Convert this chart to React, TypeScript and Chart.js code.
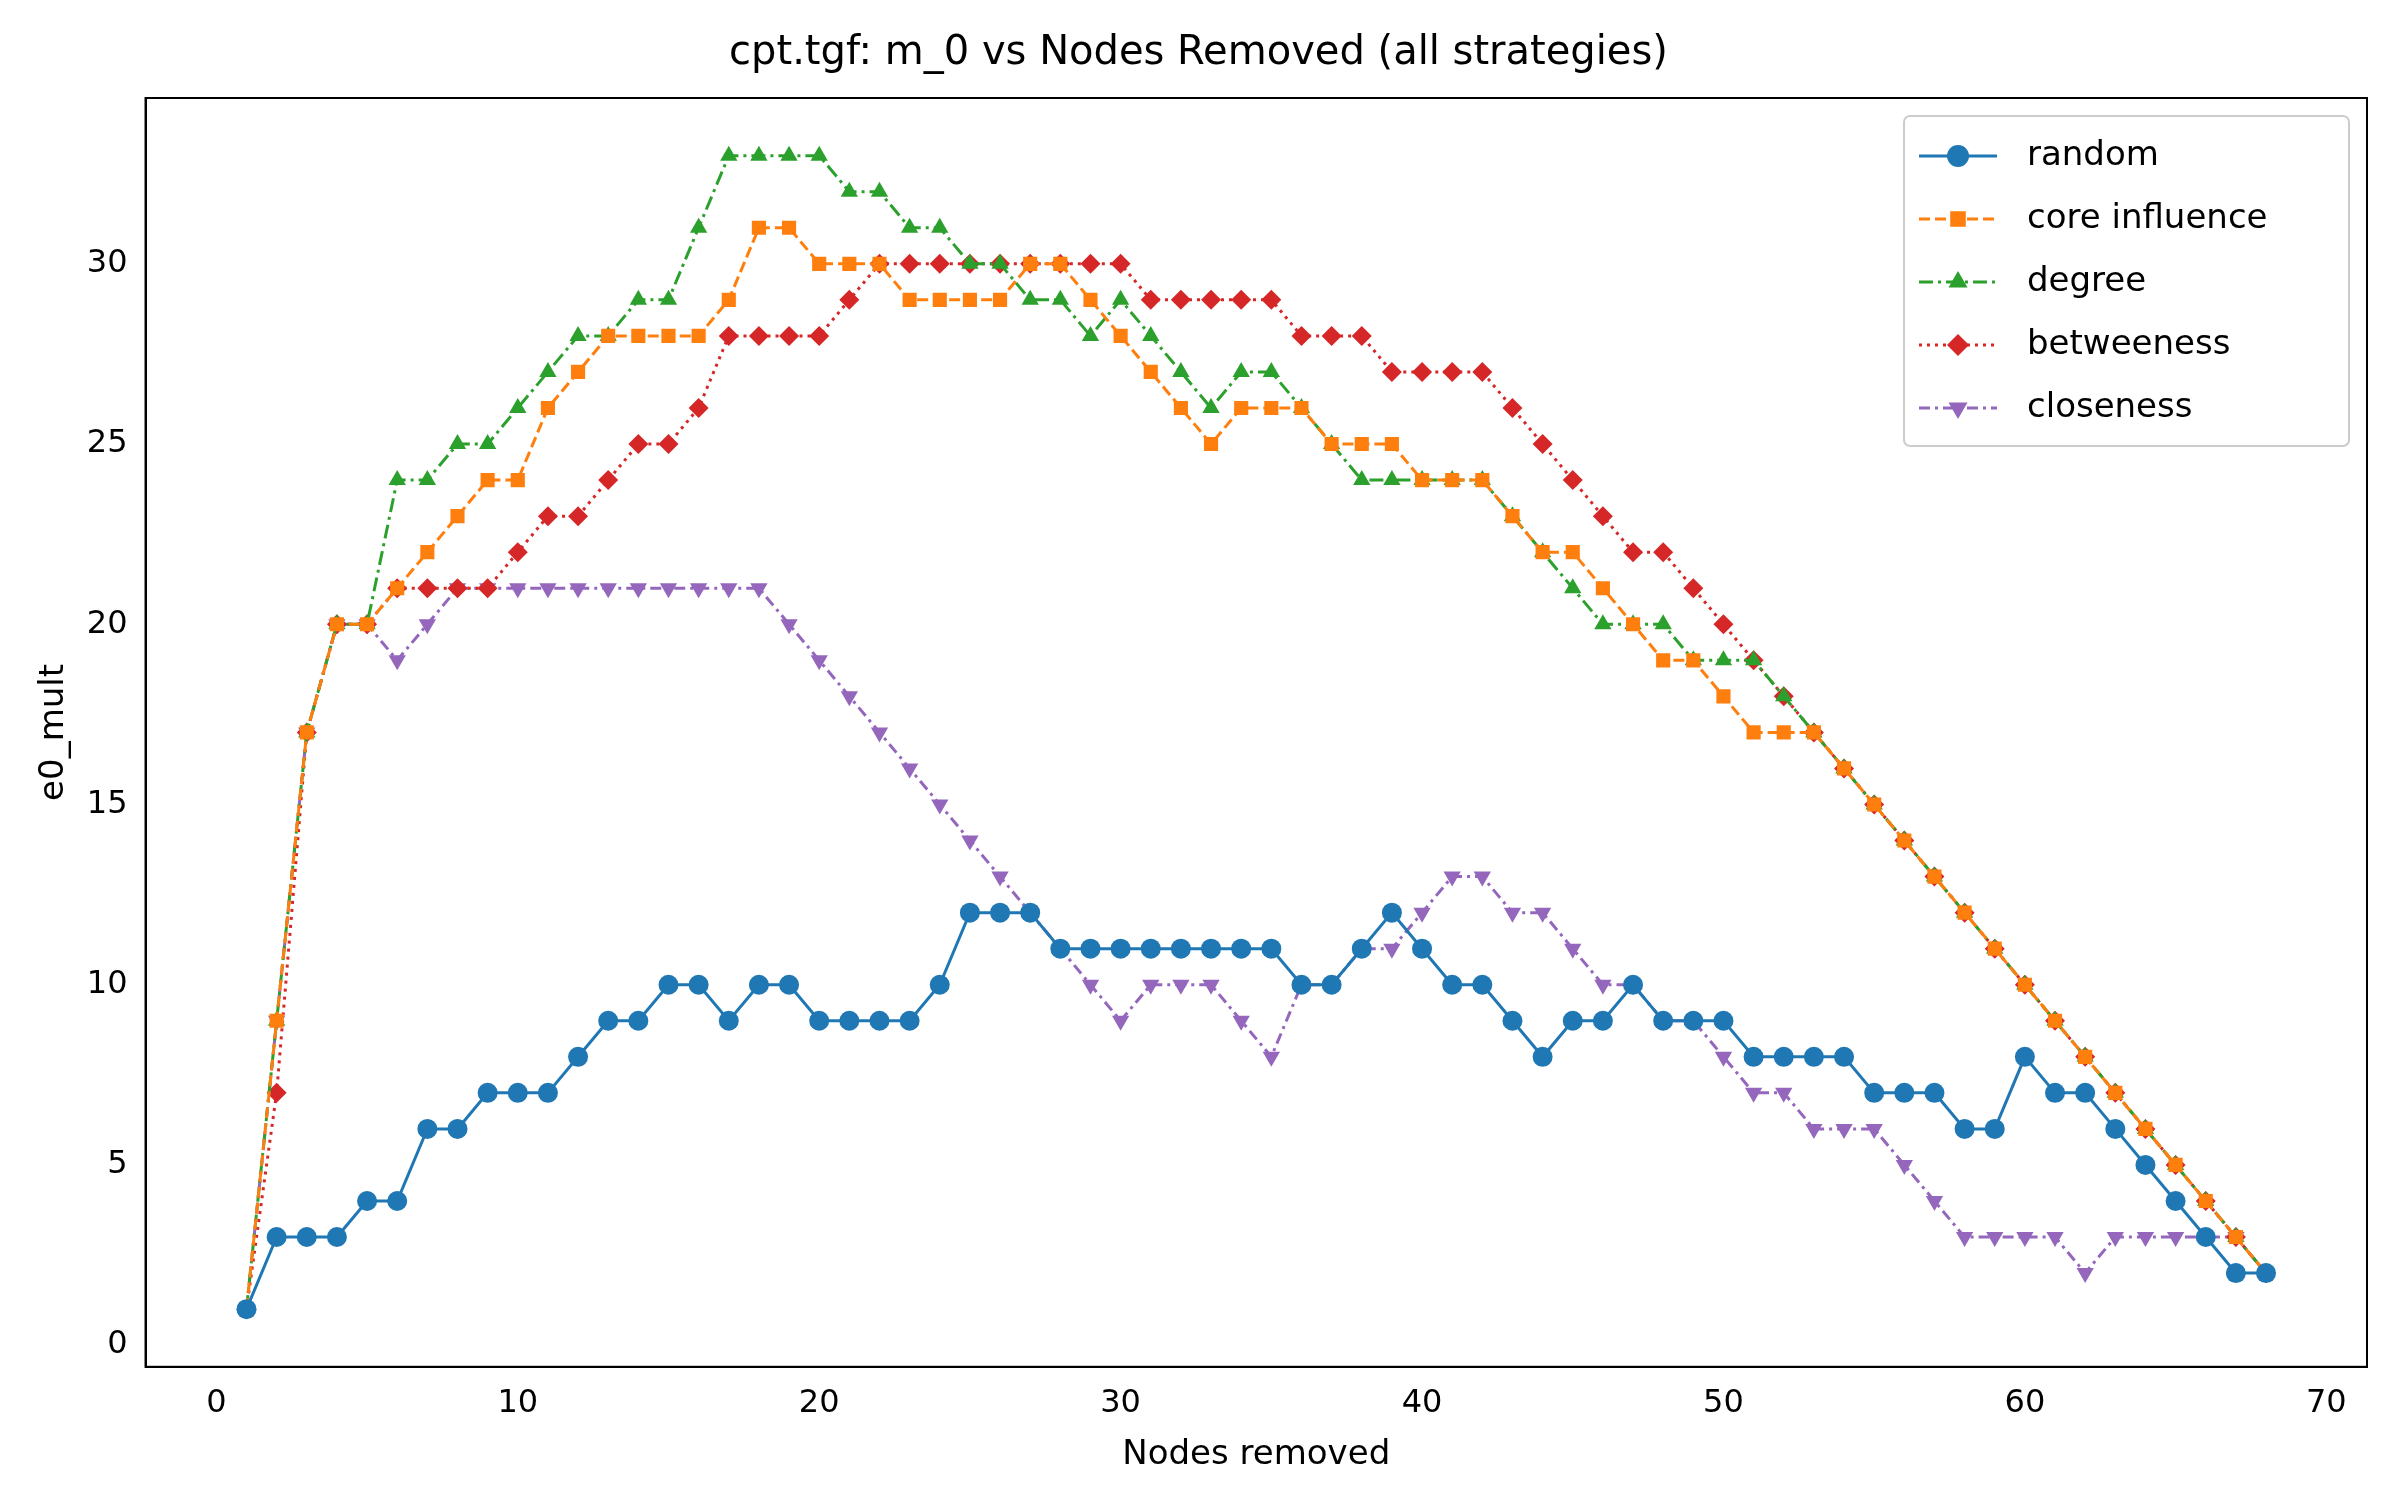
import React, { useEffect, useRef } from "react";
import { Chart, registerables } from "chart.js";
import { drawPoint } from "chart.js/helpers";
Chart.register(...registerables);

const nodesRemoved = Array.from({ length: 68 }, (_, i) => i + 1);
const randomVals = [1,3,3,3,4,4,6,6,7,7,7,8,9,9,10,10,9,10,10,9,9,9,9,10,12,12,12,11,11,11,11,11,11,11,11,10,10,11,12,11,10,10,9,8,9,9,10,9,9,9,8,8,8,8,7,7,7,6,6,8,7,7,6,5,4,3,2,2];
const coreVals = [1,9,17,20,20,21,22,23,24,24,26,27,28,28,28,28,29,31,31,30,30,30,29,29,29,29,30,30,29,28,27,26,25,26,26,26,25,25,25,24,24,24,23,22,22,21,20,19,19,18,17,17,17,16,15,14,13,12,11,10,9,8,7,6,5,4,3,2];
const degreeVals = [1,9,17,20,20,24,24,25,25,26,27,28,28,29,29,31,33,33,33,33,32,32,31,31,30,30,29,29,28,29,28,27,26,27,27,26,25,24,24,24,24,24,23,22,21,20,20,20,19,19,19,18,17,16,15,14,13,12,11,10,9,8,7,6,5,4,3,2];
const betweenVals = [1,7,17,20,20,21,21,21,21,22,23,23,24,25,25,26,28,28,28,28,29,30,30,30,30,30,30,30,30,30,29,29,29,29,29,28,28,28,27,27,27,27,26,25,24,23,22,22,21,20,19,18,17,16,15,14,13,12,11,10,9,8,7,6,5,4,3,2];
const closeVals = [1,9,17,20,20,19,20,21,21,21,21,21,21,21,21,21,21,21,20,19,18,17,16,15,14,13,12,11,10,9,10,10,10,9,8,10,10,11,11,12,13,13,12,12,11,10,10,9,9,8,7,7,6,6,6,5,4,3,3,3,3,2,3,3,3,3,3,2];
const seriesNames = ["random", "core influence", "degree", "betweeness", "closeness"];
const colors = ["#1f77b4", "#ff7f0e", "#2ca02c", "#d62728", "#9467bd"];
const dashes: number[][] = [[], [11, 5], [14, 5, 3, 5], [3, 5], [11, 5, 3, 5]];
const pointStyles = ["circle", "rect", "triangle", "rectRot", "triangle"];
const rotations = [0, 0, 0, 0, 180];
const radii = [10, 10, 10, 10, 10];
const xTicks = [0, 10, 20, 30, 40, 50, 60, 70];
const yTicks = [0, 5, 10, 15, 20, 25, 30];

const FONT = "'DejaVu Sans', sans-serif";

export default function App() {
  const ref = useRef<HTMLCanvasElement>(null);
  useEffect(() => {
    const all = [randomVals, coreVals, degreeVals, betweenVals, closeVals];
    const legendPlugin = {
      id: "mplLegend",
      afterDraw(chart: any) {
        const ctx = chart.ctx;
        const a = chart.chartArea;
        const w = 445, h = 330;
        const x0 = a.right - w - 18, y0 = a.top + 18;
        ctx.save();
        ctx.fillStyle = "rgba(255,255,255,0.85)";
        ctx.strokeStyle = "#cccccc";
        ctx.lineWidth = 2;
        ctx.beginPath();
        ctx.roundRect(x0, y0, w, h, 6);
        ctx.fill();
        ctx.stroke();
        ctx.font = `34px ${FONT}`;
        ctx.textBaseline = "middle";
        seriesNames.forEach((n, i) => {
          const cy = y0 + 40 + i * 63;
          ctx.strokeStyle = colors[i];
          ctx.lineWidth = 3;
          ctx.setLineDash(dashes[i]);
          ctx.beginPath();
          ctx.moveTo(x0 + 15, cy);
          ctx.lineTo(x0 + 93, cy);
          ctx.stroke();
          ctx.setLineDash([]);
          ctx.fillStyle = colors[i];
          drawPoint(ctx, { pointStyle: pointStyles[i] as any, rotation: rotations[i], radius: 11, borderWidth: 0 } as any, x0 + 54, cy);
          ctx.fillStyle = "#000";
          ctx.fillText(n, x0 + 123, cy);
        });
        ctx.restore();
      },
    };
    const chart = new Chart(ref.current!, {
      type: "line",
      data: {
        datasets: all.map((vals, i) => ({
          label: seriesNames[i],
          data: vals.map((v, j) => ({ x: nodesRemoved[j], y: v })),
          borderColor: colors[i],
          backgroundColor: colors[i],
          borderWidth: 3,
          borderDash: dashes[i],
          pointStyle: pointStyles[i] as any,
          rotation: rotations[i],
          pointRadius: radii[i],
          pointBorderWidth: 0,
          tension: 0,
        })),
      },
      options: {
        animation: false,
        responsive: false,
        devicePixelRatio: 1,
        layout: { padding: { left: 30, right: 33, top: 20, bottom: 20 } },
        plugins: {
          legend: { display: false },
          tooltip: { enabled: false },
          title: { display: true, text: "cpt.tgf: m_0 vs Nodes Removed (all strategies)", color: "#000", font: { family: FONT, size: 40, weight: "normal" }, padding: { top: 10, bottom: 20 } },
        },
        scales: {
          x: {
            type: "linear", min: -2.35, max: 71.35,
            afterBuildTicks: (s: any) => { s.ticks = xTicks.map((v) => ({ value: v })); },
            ticks: { color: "#000", font: { family: FONT, size: 32 }, padding: 8 },
            grid: { display: false, drawTicks: true, tickLength: 10, tickColor: "#000" } as any,
            border: { color: "#000", width: 2 },
            title: { display: true, text: "Nodes removed", color: "#000", font: { family: FONT, size: 34 } },
          },
          y: {
            type: "linear", min: -0.6, max: 34.6,
            afterBuildTicks: (s: any) => { s.ticks = yTicks.map((v) => ({ value: v })); },
            ticks: { color: "#000", font: { family: FONT, size: 32 }, padding: 8 },
            grid: { display: false, drawTicks: true, tickLength: 10, tickColor: "#000" } as any,
            border: { color: "#000", width: 2 },
            title: { display: true, text: "e0_mult", color: "#000", font: { family: FONT, size: 34 } },
          },
        },
      },
      plugins: [
        legendPlugin,
        {
          id: "frame",
          afterDraw(c: any) {
            const a = c.chartArea, ctx = c.ctx;
            ctx.save();
            ctx.strokeStyle = "#000";
            ctx.lineWidth = 2;
            ctx.strokeRect(a.left, a.top, a.right - a.left, a.bottom - a.top);
            ctx.restore();
          },
        },
      ],
    });
    return () => chart.destroy();
  }, []);
  return (
    <div style={{ position: "absolute", left: 0, top: 0, width: 2400, height: 1500, background: "#fff" }}>
      <canvas ref={ref} width={2400} height={1500} style={{ width: 2400, height: 1500 }} />
    </div>
  );
}
